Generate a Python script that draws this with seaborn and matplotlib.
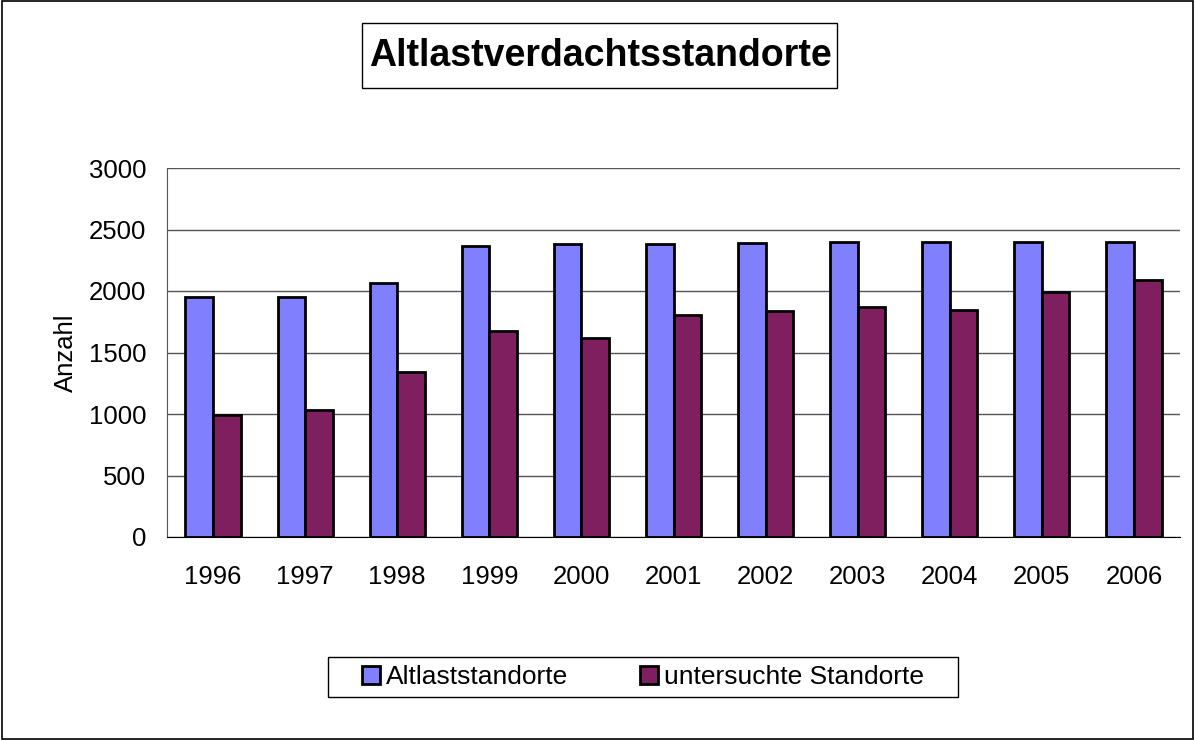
import matplotlib
matplotlib.use("Agg")
import matplotlib.pyplot as plt
from matplotlib.patches import Rectangle
from matplotlib.ticker import FixedLocator
import pandas as pd
import seaborn as sns

years = ["1996", "1997", "1998", "1999", "2000", "2001", "2002", "2003", "2004", "2005", "2006"]
altlast = [1950, 1948, 2062, 2363, 2379, 2379, 2393, 2396, 2401, 2401, 2401]
untersucht = [995, 1033, 1344, 1677, 1615, 1805, 1840, 1870, 1848, 1992, 2092]
series_names = ["Altlaststandorte", "untersuchte Standorte"]
colors = ["#8080FF", "#7F1F5F"]

df = pd.DataFrame({
    "Jahr": years * 2,
    "Anzahl": altlast + untersucht,
    "Serie": [series_names[0]] * len(years) + [series_names[1]] * len(years),
})

sns.set_style("white")
plt.rcParams["font.family"] = ["Liberation Sans", "DejaVu Sans"]
plt.rcParams["text.color"] = "black"
plt.rcParams["axes.labelcolor"] = "black"
plt.rcParams["xtick.color"] = "black"
plt.rcParams["ytick.color"] = "black"

W, H = 1195, 740
fig = plt.figure(figsize=(W / 100, H / 100), dpi=100)
ax = fig.add_axes([167 / W, 1 - 537 / H, 1013 / W, 369 / H])

sns.barplot(data=df, x="Jahr", y="Anzahl", hue="Serie", palette=colors, saturation=1,
            width=0.6, edgecolor="black", linewidth=2, ax=ax, legend=True)

ax.set_ylim(0, 3000)
ax.set_xlim(-0.5, len(years) - 0.5)
ax.set_yticks(range(0, 3001, 500))
ax.yaxis.grid(True, color="#555555", linewidth=1)
ax.set_axisbelow(True)
for s in ["top", "right"]:
    ax.spines[s].set_visible(False)
ax.spines["left"].set_color("#555555")
ax.spines["bottom"].set_color("black")

ax.tick_params(axis="y", which="major", direction="out", length=6.5, width=1, pad=8.5,
               labelsize=18.5, color="#555555", labelcolor="black")
ax.tick_params(axis="x", which="major", length=0, labelsize=18.5, pad=20, labelcolor="black")
ax.xaxis.set_minor_locator(FixedLocator([i + 0.5 for i in range(-1, len(years))]))
ax.tick_params(axis="x", which="minor", direction="out", length=6, color="#555555")

ax.set_xlabel("")
ax.set_ylabel("Anzahl", fontsize=18.5, labelpad=8)

# legend box drawn separately to match the original frame padding
leg = ax.legend(loc="center", bbox_to_anchor=(643 / W, 1 - 677 / H), bbox_transform=fig.transFigure,
                ncol=2, fontsize=19, frameon=False,
                handlelength=0.68, handleheight=0.68, handletextpad=0.23, columnspacing=2.7)
for h in leg.legend_handles:
    h.set_linewidth(2)
fig.patches.append(Rectangle((328 / W, 1 - 697 / H), 630 / W, 40 / H, transform=fig.transFigure,
                             fill=False, edgecolor="black", linewidth=1))

# title with box
fig.patches.append(Rectangle((362 / W, 1 - 88 / H), 475 / W, 65 / H, transform=fig.transFigure,
                             fill=False, edgecolor="black", linewidth=1))
fig.text(600 / W, 1 - 56 / H, "Altlastverdachtsstandorte", ha="center", va="center",
         fontsize=27, fontweight="bold")

# outer chart border
fig.patches.append(Rectangle((0.002, 0.002), 0.996, 0.996, transform=fig.transFigure,
                             fill=False, edgecolor="black", linewidth=1.2))

fig.savefig("out.png", dpi=100)
